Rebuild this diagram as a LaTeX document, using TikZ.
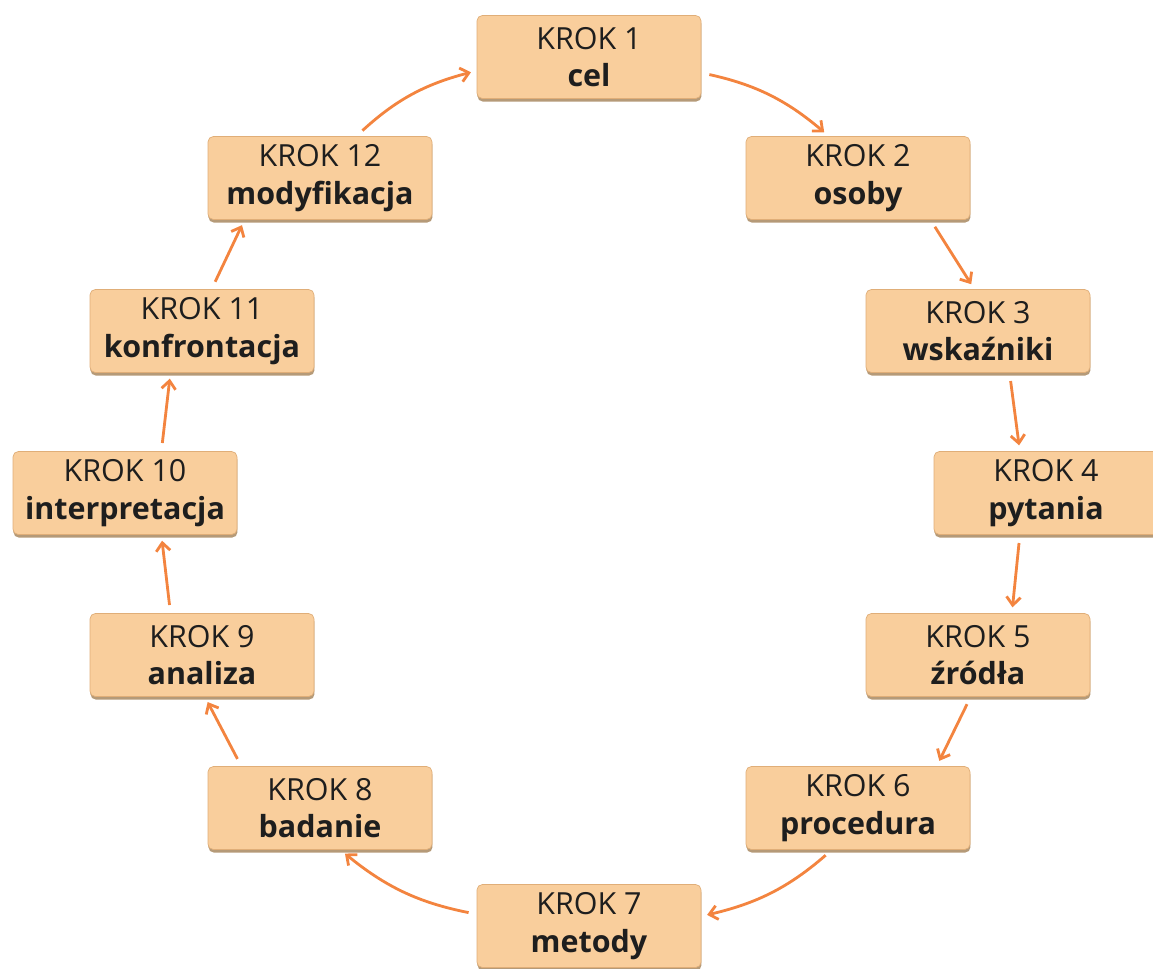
\documentclass[tikz,border=0pt]{standalone}
\usepackage{fontspec}
\setmainfont{Open Sans}
\usetikzlibrary{arrows.meta,shadows}

\definecolor{boxfill}{HTML}{F9CE9C}
\definecolor{boxline}{HTML}{E0AE78}
\definecolor{boxshadow}{HTML}{B59A78}
\definecolor{arrowc}{HTML}{F3843F}
\definecolor{textc}{HTML}{1E1E1E}

\begin{document}
\begin{tikzpicture}[x=0.03cm,y=-0.03cm]

    % let's define some key values
    \def\boxw{224}
    \def\boxh{83}

    % Styles
    \tikzstyle{krok}=[draw=boxline, fill=boxfill, line width=0.6pt,
        rounded corners=0.16cm, minimum width=\boxw*0.03cm,
        minimum height=\boxh*0.03cm, align=center, text=textc,
        font=\fontsize{26}{32}\selectfont, inner sep=0pt,
        drop shadow={shadow xshift=0.4pt, shadow yshift=-2.6pt,
            fill=boxshadow, opacity=1}]
    \tikzstyle{flow}=[draw=arrowc, line width=2.4pt,
        -{Straight Barb[length=7pt,width=12pt,line width=2.4pt]},
        shorten <=7pt, shorten >=5pt]

    \useasboundingbox (0,0) rectangle (1153,968);

    % the twelve steps, clockwise from the top
    \node[krok] (b1) at (589,57) {KROK 1\\\textbf{cel}};
    \node[krok] (b2) at (858,178) {KROK 2\\\textbf{osoby}};
    \node[krok] (b3) at (978,331) {KROK 3\\\textbf{wskaźniki}};
    \node[krok] (b4) at (1046,493) {KROK 4\\\textbf{pytania}};
    \node[krok] (b5) at (978,655) {KROK 5\\\textbf{źródła}};
    \node[krok] (b6) at (858,808) {KROK 6\\\textbf{procedura}};
    \node[krok] (b7) at (589,926) {KROK 7\\\textbf{metody}};
    \node[krok] (b8) at (320,808) {KROK 8\\\textbf{badanie}};
    \node[krok] (b9) at (202,655) {KROK 9\\\textbf{analiza}};
    \node[krok] (b10) at (125,493) {KROK 10\\\textbf{interpretacja}};
    \node[krok] (b11) at (202,331) {KROK 11\\\textbf{konfrontacja}};
    \node[krok] (b12) at (320,178) {KROK 12\\\textbf{modyfikacja}};

    % right half
    \draw[flow] (b1.-8) to[bend left=14] (b2.125);
    \draw[flow] (b2.-30) -- (b3.95);
    \draw[flow] (b3.-53) -- (b4.122);
    \draw[flow] (b4.-122) -- (b5.51);
    \draw[flow] (b5.-100) -- (b6.28);
    \draw[flow] (b6.-122) to[bend left=14] (b7.5);

    % left half
    \draw[flow] (b7.174) to[bend left=14] (b8.-64);
    \draw[flow] (b8.152) -- (b9.-86);
    \draw[flow] (b9.127) -- (b10.-49);
    \draw[flow] (b10.49) -- (b11.-127);
    \draw[flow] (b11.77) -- (b12.-151);
    \draw[flow] (b12.49) to[bend left=14] (b1.-173);

\end{tikzpicture}
\end{document}
